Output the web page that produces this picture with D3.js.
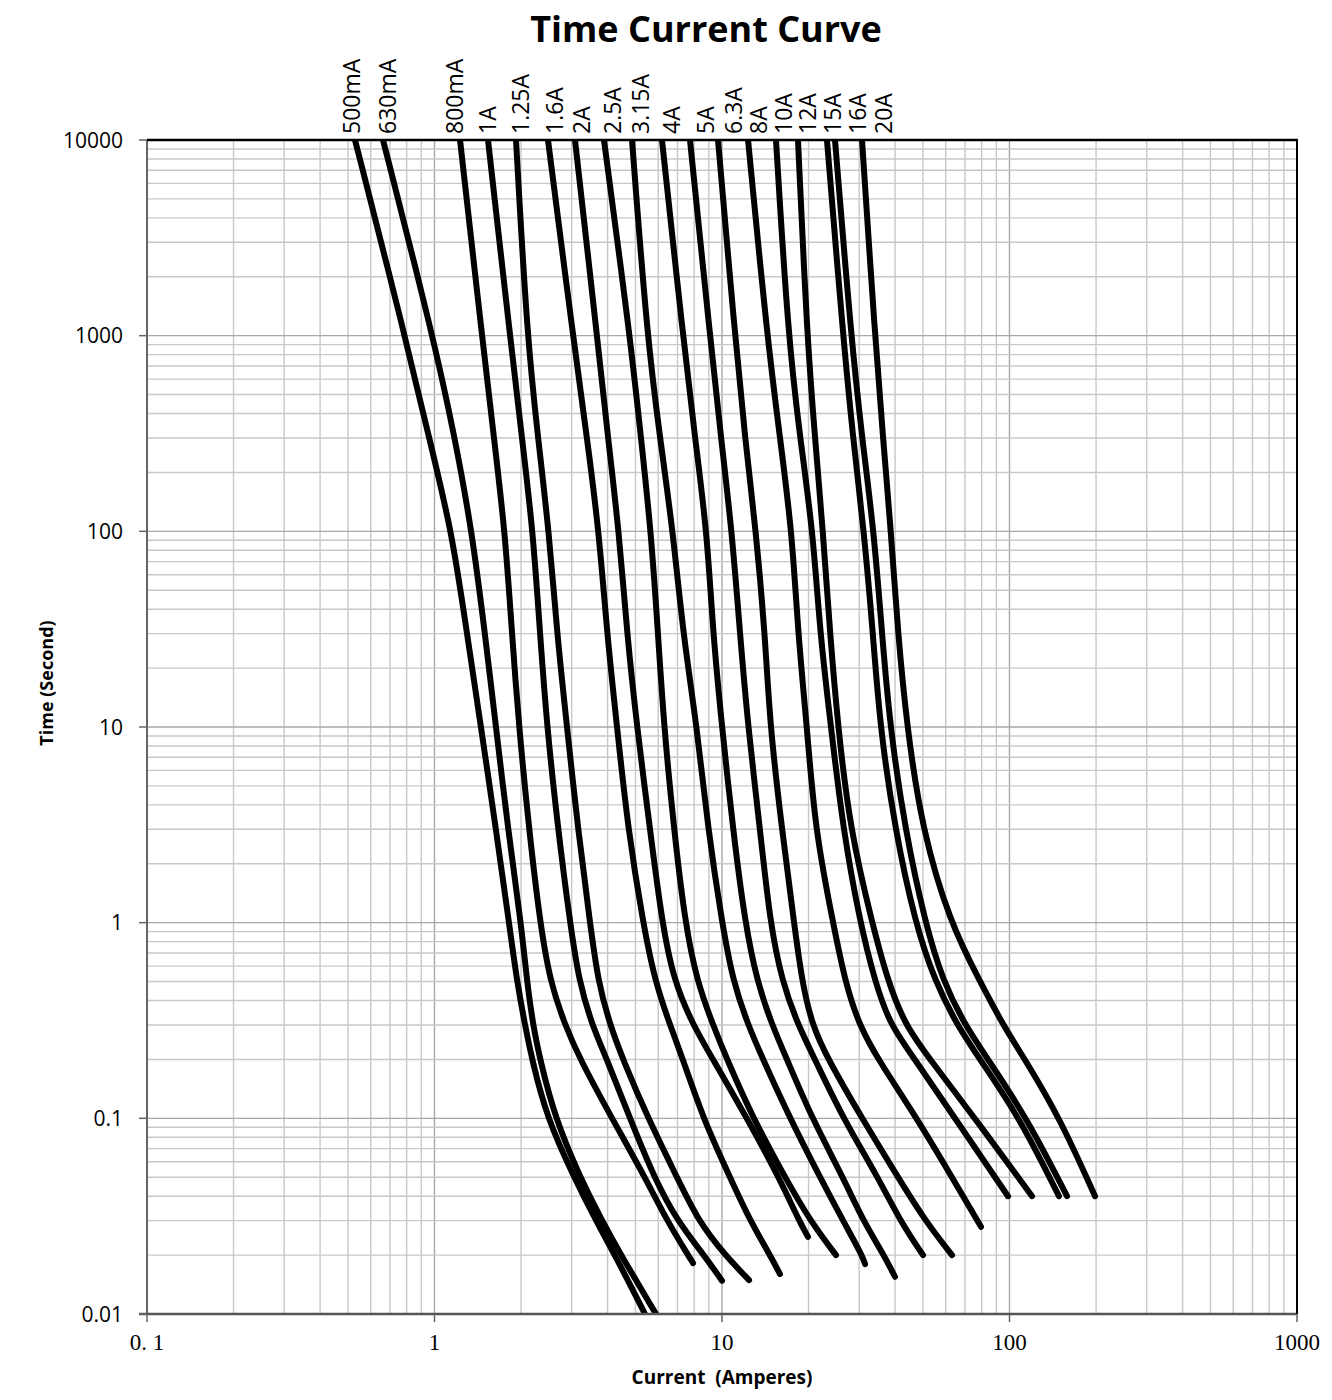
<!DOCTYPE html>
<html>
<head>
<meta charset="utf-8">
<script src="https://cdn.jsdelivr.net/npm/d3@7"></script>
<style>
    body { margin: 0; background: #fff; }
    svg text { font-family: "Open Sans", "Liberation Sans", sans-serif; fill: #000; }
</style>
</head>
<body>
<div id="chart"></div>
<script>

// fuse ratings, in the order the curves appear left to right
const ratings = ["500mA", "630mA", "800mA", "1A", "1.25A", "1.6A", "2A", "2.5A", "3.15A",
    "4A", "5A", "6.3A", "8A", "10A", "12A", "15A", "16A", "20A"]

// time grid (seconds) that every curve is read at
const times = [10000, 1000, 300, 100, 30, 10, 3, 1, 0.5, 0.3, 0.2, 0.1, 0.05, 0.03, 0.02, 0.01]

// current (A) of each curve at the times above, the list stops where the curve ends
const currents = [
    [0.529, 0.790, 0.957, 1.150, 1.297, 1.451, 1.636, 1.816, 1.936, 2.064, 2.183, 2.462, 3.057, 3.645, 4.245, 5.397],
    [0.662, 0.988, 1.178, 1.350, 1.498, 1.636, 1.802, 1.999, 2.098, 2.201, 2.328, 2.626, 3.207, 3.824, 4.453, 5.895],
    [1.227, 1.463, 1.610, 1.759, 1.860, 1.967, 2.132, 2.328, 2.522, 2.844, 3.207, 4.144, 5.397, 6.438, 7.616],
    [1.535, 1.831, 2.015, 2.201, 2.328, 2.462, 2.690, 2.960, 3.181, 3.530, 3.981, 4.786, 5.801, 6.975, 8.659],
    [1.921, 2.098, 2.291, 2.502, 2.668, 2.890, 3.156, 3.474, 3.704, 4.079, 4.525, 5.528, 6.975, 8.251, 10.24],
    [2.482, 3.032, 3.392, 3.734, 3.981, 4.314, 4.710, 5.311, 5.848, 6.594, 7.317, 8.590, 10.66, 12.52, 14.69],
    [3.081, 3.675, 4.013, 4.383, 4.673, 5.062, 5.618, 6.184, 6.808, 7.927, 9.305, 12.22, 15.78, 18.53],
    [3.886, 4.786, 5.227, 5.663, 5.990, 6.284, 6.808, 7.435, 8.185, 9.305, 10.41, 12.82, 16.56, 20.23],
    [4.864, 5.484, 6.086, 6.754, 7.317, 8.185, 8.939, 10.00, 10.92, 12.32, 13.89, 17.24, 21.92, 26.36, 30.69],
    [6.184, 7.317, 8.055, 8.869, 9.305, 10.00, 10.92, 12.02, 13.24, 14.93, 16.83, 20.56, 26.36, 30.94, 36.60],
    [7.739, 9.085, 9.920, 10.83, 11.55, 12.32, 13.56, 14.69, 16.17, 18.38, 21.06, 26.36, 34.88, 41.59],
    [9.685, 11.10, 12.02, 13.13, 14.11, 14.69, 16.17, 17.80, 18.98, 20.56, 23.37, 30.69, 40.93, 50.84],
    [12.32, 14.34, 15.91, 17.52, 18.38, 19.75, 21.06, 24.33, 26.78, 29.97, 34.88, 47.68, 63.10],
    [15.41, 16.97, 18.68, 20.73, 21.92, 23.94, 26.36, 30.20, 34.05, 38.40, 46.92, 64.63],
    [18.38, 19.75, 21.06, 22.45, 23.75, 25.32, 27.88, 33.25, 37.79, 43.29, 52.91, 75.86],
    [23.18, 26.36, 28.55, 31.18, 33.51, 35.44, 39.96, 46.92, 55.07, 65.67, 78.96, 108.8],
    [24.72, 28.10, 30.69, 33.78, 36.02, 38.40, 43.29, 50.84, 58.72, 70.00, 84.18, 115.1],
    [30.69, 34.05, 36.31, 38.70, 40.93, 43.99, 49.63, 62.09, 78.96, 94.92, 113.2, 149.8]
]

// last point of each curve [current, time], null when it runs off the bottom
const endPoints = [
    null, null, [7.93, 0.0182], [10.0, 0.0148], [12.42, 0.0149], [15.91, 0.0160],
    [19.91, 0.0248], [24.92, 0.0200], [31.44, 0.0180], [39.96, 0.0155], [50.03, 0.0200],
    [63.10, 0.0200], [79.59, 0.0279], [98.81, 0.0400], [119.8, 0.0400], [148.6, 0.0400],
    [158.5, 0.0400], [198.4, 0.0400]
]

// current where each rating label sits above the frame
const labelCurrents = [0.516, 0.689, 1.178, 1.535, 2.0, 2.625, 3.26, 4.178, 5.228,
    6.70, 8.80, 11.01, 13.45, 16.43, 19.91, 24.33, 29.72, 36.61]

const xTickValues = [0.1, 1, 10, 100, 1000]
const xTickLabels = ["0. 1", "1", "10", "100", "1000"]
const yTickValues = [10000, 1000, 100, 10, 1, 0.1, 0.01]
const yTickLabels = ["10000", "1000", "100", "10", "1", "0.1", "0.01"]


const width = 1332
const height = 1400
const plot = { left: 147, right: 1297, top: 140, bottom: 1314 }

const x = d3.scaleLog().domain([0.1, 1000]).range([plot.left, plot.right])
const y = d3.scaleLog().domain([0.01, 10000]).range([plot.bottom, plot.top])

const svg = d3.select("#chart")
    .append("svg")
    .attr("width", width)
    .attr("height", height)

svg.append("rect").attr("width", width).attr("height", height).attr("fill", "#fff")

// 1..9 lines in every decade
const logGrid = (lo, hi) => {
    const out = []
    for (let e = lo; e < hi; e++) {
        for (let k = 1; k <= 9; k++) out.push({ v: k * Math.pow(10, e), major: k === 1 })
    }
    out.push({ v: Math.pow(10, hi), major: true })
    return out
}

const grid = svg.append("g").attr("class", "grid")

grid.selectAll(".vgrid")
    .data(logGrid(-1, 3))
    .join("line")
    .attr("class", "vgrid")
    .attr("x1", d => x(d.v)).attr("x2", d => x(d.v))
    .attr("y1", plot.top).attr("y2", plot.bottom)
    .attr("stroke", d => d.major ? "#a8a8a8" : "#c8c8c8")
    .attr("stroke-width", 1.4)

grid.selectAll(".hgrid")
    .data(logGrid(-2, 4))
    .join("line")
    .attr("class", "hgrid")
    .attr("x1", plot.left).attr("x2", plot.right)
    .attr("y1", d => y(d.v)).attr("y2", d => y(d.v))
    .attr("stroke", d => d.major ? "#a8a8a8" : "#c8c8c8")
    .attr("stroke-width", 1.4)

// curves
svg.append("clipPath").attr("id", "plotClip")
    .append("rect")
    .attr("x", plot.left).attr("y", plot.top)
    .attr("width", plot.right - plot.left).attr("height", plot.bottom - plot.top)

const curveData = ratings.map((name, i) => {
    const pts = currents[i].map((c, j) => [c, times[j]])
    if (endPoints[i]) pts.push(endPoints[i])
    return { name, pts }
})

// basis spline smooths out the reading noise between grid points
const line = d3.line()
    .x(d => x(d[0]))
    .y(d => y(d[1]))
    .curve(d3.curveBasis)

svg.append("g")
    .attr("clip-path", "url(#plotClip)")
    .selectAll("path")
    .data(curveData)
    .join("path")
    .attr("d", d => line(d.pts))
    .attr("fill", "none")
    .attr("stroke", "#000")
    .attr("stroke-width", 6)
    .attr("stroke-linecap", "round")
    .attr("stroke-linejoin", "round")

// frame: gray axes on left / bottom, black border on top / right
svg.append("line")
    .attr("x1", plot.left).attr("x2", plot.left)
    .attr("y1", plot.top).attr("y2", plot.bottom)
    .attr("stroke", "#666").attr("stroke-width", 2)
svg.append("line")
    .attr("x1", plot.left - 8).attr("x2", plot.right)
    .attr("y1", plot.bottom).attr("y2", plot.bottom)
    .attr("stroke", "#555").attr("stroke-width", 2.5)
svg.append("line")
    .attr("x1", plot.left).attr("x2", plot.right + 1)
    .attr("y1", plot.top).attr("y2", plot.top)
    .attr("stroke", "#000").attr("stroke-width", 2.5)
svg.append("line")
    .attr("x1", plot.right).attr("x2", plot.right)
    .attr("y1", plot.top).attr("y2", plot.bottom)
    .attr("stroke", "#000").attr("stroke-width", 2)

// y axis ticks + labels
const yAxis = svg.append("g").attr("class", "yAxis")
yAxis.selectAll("line")
    .data(yTickValues)
    .join("line")
    .attr("x1", plot.left - 8).attr("x2", plot.left)
    .attr("y1", d => y(d)).attr("y2", d => y(d))
    .attr("stroke", "#666").attr("stroke-width", 1.5)
yAxis.selectAll("text")
    .data(yTickValues)
    .join("text")
    .attr("x", 123)
    .attr("y", d => y(d))
    .attr("dy", "0.36em")
    .attr("text-anchor", "end")
    .style("font-size", "21px")
    .text((d, i) => yTickLabels[i])

// x axis ticks + labels (serif like the source)
const xAxis = svg.append("g").attr("class", "xAxis")
xAxis.selectAll("line")
    .data(xTickValues)
    .join("line")
    .attr("x1", d => x(d)).attr("x2", d => x(d))
    .attr("y1", plot.bottom).attr("y2", plot.bottom + 8)
    .attr("stroke", "#666").attr("stroke-width", 1.5)
xAxis.selectAll("text")
    .data(xTickValues)
    .join("text")
    .attr("x", d => x(d))
    .attr("y", 1350)
    .attr("text-anchor", "middle")
    .style("font-family", "'Liberation Serif', 'DejaVu Serif', serif")
    .style("font-size", "23px")
    .text((d, i) => xTickLabels[i])

// rating labels over the frame
svg.append("g")
    .attr("class", "ratingLabels")
    .selectAll("text")
    .data(ratings)
    .join("text")
    .attr("transform", (d, i) => `translate(${x(labelCurrents[i]) + 8}, 134) rotate(-90)`)
    .style("font-size", "23px")
    .text(d => d)

// titles
svg.append("text")
    .attr("x", 706).attr("y", 42)
    .attr("text-anchor", "middle")
    .style("font-size", "36px")
    .style("font-weight", "bold")
    .text("Time Current Curve")

svg.append("text")
    .attr("x", 722).attr("y", 1384)
    .attr("text-anchor", "middle")
    .style("font-size", "19px")
    .style("font-weight", "bold")
    .text("Current\u00a0\u00a0(Amperes)")

svg.append("text")
    .attr("transform", "translate(53, 683) rotate(-90)")
    .attr("text-anchor", "middle")
    .style("font-size", "18px")
    .style("font-weight", "bold")
    .text("Time (Second)")

</script>
</body>
</html>
